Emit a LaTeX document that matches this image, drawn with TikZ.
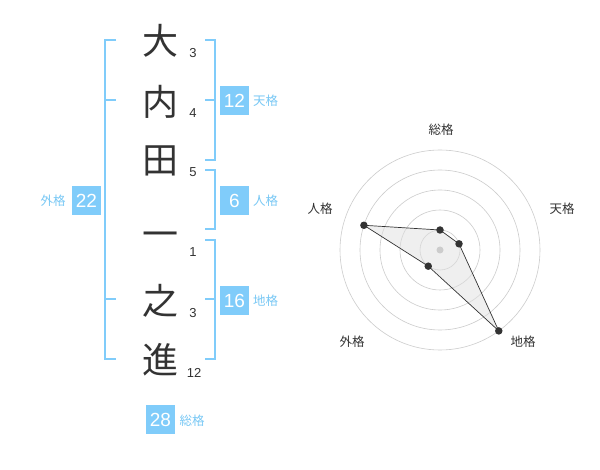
\documentclass[tikz,border=0pt]{standalone}
\usepackage{fontspec}
\setmainfont{Liberation Sans}
\newfontfamily\jp{Noto Sans CJK JP}
\definecolor{sky}{RGB}{128,204,250}
\definecolor{skytxt}{RGB}{120,200,245}
\definecolor{ink}{RGB}{51,51,51}
\definecolor{ring}{RGB}{204,204,204}
\tikzset{
  kanji/.style={font=\jp\fontsize{36}{36}\selectfont, text=ink, inner sep=0pt},
  strokes/.style={font=\fontsize{13}{13}\selectfont, text=ink, inner sep=0pt},
  numbox/.style={fill=sky, text=white, minimum width=29pt, minimum height=29pt, inner sep=0pt, font=\fontsize{19}{19}\selectfont},
  kaku/.style={font=\jp\fontsize{12.5}{12.5}\selectfont, text=skytxt, inner sep=0pt},
  brk/.style={draw=sky, line width=2pt},
  axislbl/.style={font=\jp\fontsize{12.5}{12.5}\selectfont, text=ink, inner sep=0pt},
  dot/.style={circle, fill=ink, inner sep=0pt, minimum size=7.5pt},
}
\begin{document}
\begin{tikzpicture}[x=1pt, y=-1pt]
\useasboundingbox[fill=white] (0,0) rectangle (600,470);
% kanji
\node[kanji] (k1) at (160,41) {大};
\node[kanji] (k2) at (160,102) {内};
\node[kanji] (k3) at (160,161) {田};
\node[kanji] (k4) at (160,240) {一};
\node[kanji] (k5) at (160,301) {之};
\node[kanji] (k6) at (160,360) {進};
% stroke counts
\node[strokes] (s1) at (193,53) {3};
\node[strokes] (s2) at (193,113) {4};
\node[strokes] (s3) at (193,172.5) {5};
\node[strokes] (s4) at (193,252.5) {1};
\node[strokes] (s5) at (193,313) {3};
\node[strokes] (s6) at (194,372.5) {12};
% brackets
\draw[brk] (116,40) -- (105,40) -- (105,359) -- (116,359);
\draw[brk] (105,100) -- (116,100);
\draw[brk] (105,299) -- (116,299);
\draw[brk] (205,40) -- (215,40) -- (215,160) -- (205,160);
\draw[brk] (215,100) -- (205,100);
\draw[brk] (205,170) -- (215,170) -- (215,229.5) -- (205,229.5);
\draw[brk] (205,240) -- (215,240) -- (215,359) -- (205,359);
\draw[brk] (215,299) -- (205,299);
% boxes and labels
\node[numbox] (ten) at (234.5,100.5) {12};
\node[kaku] (tenl) at (265.5,101) {天格};
\node[numbox] (jin) at (234.5,200.5) {6};
\node[kaku] (jinl) at (265.5,201) {人格};
\node[numbox] (chi) at (234.5,300.5) {16};
\node[kaku] (chil) at (265.5,301) {地格};
\node[numbox] (gai) at (86.5,200.5) {22};
\node[kaku] (gail) at (53,201) {外格};
\node[numbox] (sou) at (160.5,419.5) {28};
\node[kaku] (soul) at (192,421) {総格};
% radar
\begin{scope}[shift={(440,250)}, x=1pt, y=1pt]
  \foreach \r in {20,40,60,80,100} \draw[ring, line width=0.6pt] (0,0) circle (\r);
  \coordinate (pS) at (90:20);
  \coordinate (pT) at (18:20);
  \coordinate (pC) at (-54:100);
  \coordinate (pG) at (-126:20);
  \coordinate (pJ) at (162:80);
  \filldraw[fill=black!12, fill opacity=0.5, draw=ink, line width=0.7pt] (pS) -- (pT) -- (pC) -- (pG) -- (pJ) -- cycle;
  \fill[ring] (0,0) circle (3.5);
  \foreach \p in {pS,pT,pC,pG,pJ} \node[dot] (d\p) at (\p) {};
\end{scope}
\node[axislbl] (aS) at (441,130) {総格};
\node[axislbl] (aT) at (562,208.5) {天格};
\node[axislbl] (aJ) at (320,209) {人格};
\node[axislbl] (aG) at (352,342) {外格};
\node[axislbl] (aC) at (523,342) {地格};
\end{tikzpicture}
\end{document}
